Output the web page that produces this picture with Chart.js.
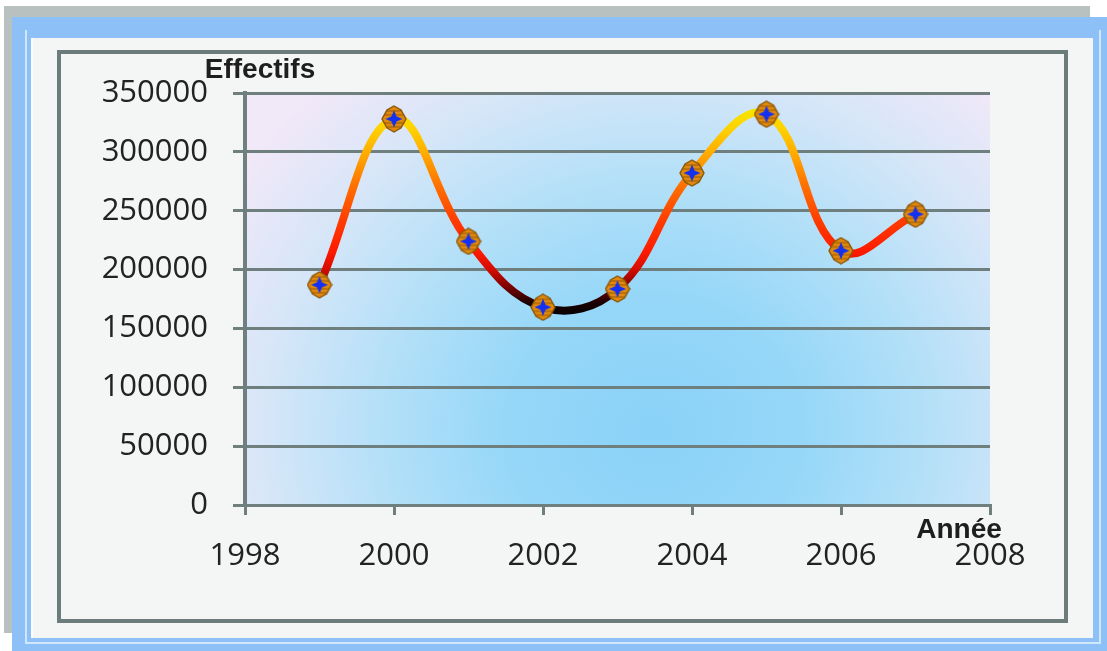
<!DOCTYPE html>
<html lang="fr">
<head>
<meta charset="utf-8">
<title>Effectifs par année</title>
<script src="https://cdn.jsdelivr.net/npm/chart.js@4/dist/chart.umd.min.js"></script>
<style>
  html, body { margin: 0; padding: 0; background: #ffffff; }
  #wrap { position: relative; width: 1107px; height: 651px; overflow: hidden; }
  .box { position: absolute; box-sizing: border-box; }
  #shadow { left: 4px; top: 6px; width: 1086px; height: 627px; background: #b8c0c0; }
  #outer { left: 12px; top: 17px; width: 1095px; height: 634px; background: #8cc0f7; }
  #rim { left: 25px; top: 30px; width: 1076px; height: 614px;
         border-left: 2px solid #cfe6fb; border-right: 2px solid #cfe6fb; border-bottom: 2px solid #cfe6fb; }
  #panel { left: 31px; top: 38px; width: 1062px; height: 600px; background: #f4f6f6;
           border-left: 2px solid #fbfcfc; }
  #frame { left: 57px; top: 50px; width: 1011px; height: 573px; border: 4px solid #6b7c7b; }
  #c { position: absolute; left: 0; top: 0; }
</style>
</head>
<body>
<div id="wrap">
  <div class="box" id="shadow"></div>
  <div class="box" id="outer"></div>
  <div class="box" id="rim"></div>
  <div class="box" id="panel"></div>
  <div class="box" id="frame"></div>
  <canvas id="c" width="1107" height="651"></canvas>
</div>
<script>
// Effectifs recensés chaque année
const annees = [1999, 2000, 2001, 2002, 2003, 2004, 2005, 2006, 2007];
const effectifs = [187000, 328000, 224000, 168000, 183500, 282000, 332000, 216000, 247000];

// Axis settings
const anneeMin = 1998, anneeMax = 2008, anneePas = 2;
const effectifMin = 0, effectifMax = 350000, effectifPas = 50000;

// Colour ramp of the curve, keyed by value
const rampe = [
  [160000, '#000000'],
  [172000, '#1c0000'],
  [185000, '#7a0000'],
  [200000, '#d40c00'],
  [215000, '#ff1a00'],
  [240000, '#ff3a00'],
  [270000, '#ff6e00'],
  [300000, '#ffae00'],
  [320000, '#ffd200'],
  [335000, '#f6e400']
];

const police = '"Open Sans", "Liberation Sans", sans-serif';
const couleurGrille = '#6e7f7e';

// Diamond-shaped marker with a blue star in the middle
function creerMarqueur() {
  const c = document.createElement('canvas');
  c.width = 26; c.height = 28;
  const g = c.getContext('2d');
  const corps = () => {
    g.beginPath();
    g.moveTo(13, 1); g.lineTo(20, 5); g.lineTo(25, 14); g.lineTo(20, 23);
    g.lineTo(13, 27); g.lineTo(6, 23); g.lineTo(1, 14); g.lineTo(6, 5);
    g.closePath();
  };
  corps();
  g.fillStyle = '#e0890c';
  g.fill();
  g.save();
  corps();
  g.clip();
  g.strokeStyle = 'rgba(110,60,5,0.6)';
  g.lineWidth = 1.2;
  [6, 10, 18, 22].forEach(y => { g.beginPath(); g.moveTo(0, y); g.lineTo(26, y); g.stroke(); });
  g.restore();
  corps();
  g.strokeStyle = '#8a5508';
  g.lineWidth = 1.4;
  g.stroke();
  // étoile bleue
  g.beginPath();
  const cx = 13, cy = 14, R = 8.5, r = 3.6;
  for (let i = 0; i < 8; i++) {
    const a = -Math.PI / 2 + i * Math.PI / 4;
    const rr = i % 2 === 0 ? R : r;
    const x = cx + rr * Math.cos(a), y = cy + rr * Math.sin(a);
    if (i === 0) g.moveTo(x, y); else g.lineTo(x, y);
  }
  g.closePath();
  g.fillStyle = '#1430f0';
  g.fill();
  return c;
}
const marqueur = creerMarqueur();

// Soft radial background of the plot area
const fondZone = {
  id: 'fondZone',
  beforeDraw(chart) {
    const { ctx, chartArea: a } = chart;
    ctx.save();
    ctx.beginPath();
    ctx.rect(a.left, a.top, a.right - a.left, a.bottom - a.top);
    ctx.clip();
    const cx = a.left + (a.right - a.left) * 0.55;
    const cy = a.top + (a.bottom - a.top) * 0.82;
    const rx = 500, ry = 460;
    ctx.translate(cx, cy);
    ctx.scale(rx / ry, 1);
    const g = ctx.createRadialGradient(0, 0, 0, 0, 0, ry);
    g.addColorStop(0, '#8ad2f8');
    g.addColorStop(0.3, '#96d7f8');
    g.addColorStop(0.55, '#b4e0f8');
    g.addColorStop(0.78, '#d6e6f8');
    g.addColorStop(1, '#f1e8f8');
    ctx.fillStyle = g;
    ctx.fillRect(-cx * 3, -cy * 3, 6000, 6000);
    ctx.restore();
  }
};

// Axis titles
const titresAxes = {
  id: 'titresAxes',
  afterDraw(chart) {
    const { ctx } = chart;
    ctx.save();
    ctx.fillStyle = '#1e1e1e';
    ctx.font = 'bold 28px "Liberation Sans", Arial, sans-serif';
    ctx.textAlign = 'center';
    ctx.textBaseline = 'alphabetic';
    ctx.fillText('Effectifs', 260, 78);
    ctx.fillText('Année', 959, 538);
    ctx.restore();
  }
};

const sansSeparateur = v => String(v);

new Chart(document.getElementById('c'), {
  type: 'line',
  data: {
    datasets: [{
      label: 'Effectifs',
      data: annees.map((a, i) => ({ x: a, y: effectifs[i] })),
      borderWidth: 8,
      tension: 0.4,
      borderCapStyle: 'round',
      borderJoinStyle: 'round',
      borderColor(ctx) {
        const chart = ctx.chart;
        if (!chart.chartArea) return '#ff3000';
        const y = chart.scales.y;
        const lo = rampe[0][0], hi = rampe[rampe.length - 1][0];
        const g = chart.ctx.createLinearGradient(0, y.getPixelForValue(lo), 0, y.getPixelForValue(hi));
        rampe.forEach(([v, c]) => g.addColorStop((v - lo) / (hi - lo), c));
        return g;
      },
      pointStyle: marqueur,
      pointRadius: 12,
      pointHoverRadius: 12,
      fill: false
    }]
  },
  options: {
    responsive: false,
    animation: false,
    events: [],
    layout: { padding: { left: 0, top: 93, right: 117, bottom: 0 } },
    plugins: { legend: { display: false }, tooltip: { enabled: false } },
    scales: {
      x: {
        type: 'linear',
        min: anneeMin, max: anneeMax,
        afterFit(s) { s.height = 146; },
        ticks: { stepSize: anneePas, callback: sansSeparateur, color: '#222222',
                 font: { family: police, size: 31 }, padding: 23 },
        grid: { drawOnChartArea: false, drawTicks: true, tickLength: 10, color: couleurGrille, lineWidth: 3 },
        border: { display: true, color: couleurGrille, width: 3 }
      },
      y: {
        min: effectifMin, max: effectifMax,
        afterFit(s) { s.width = 245; },
        ticks: { stepSize: effectifPas, callback: sansSeparateur, color: '#222222',
                 font: { family: police, size: 31 }, padding: 25 },
        grid: { drawTicks: true, tickLength: 12, color: couleurGrille, lineWidth: 3 },
        border: { display: true, color: couleurGrille, width: 4 }
      }
    }
  },
  plugins: [fondZone, titresAxes]
});
</script>
</body>
</html>
